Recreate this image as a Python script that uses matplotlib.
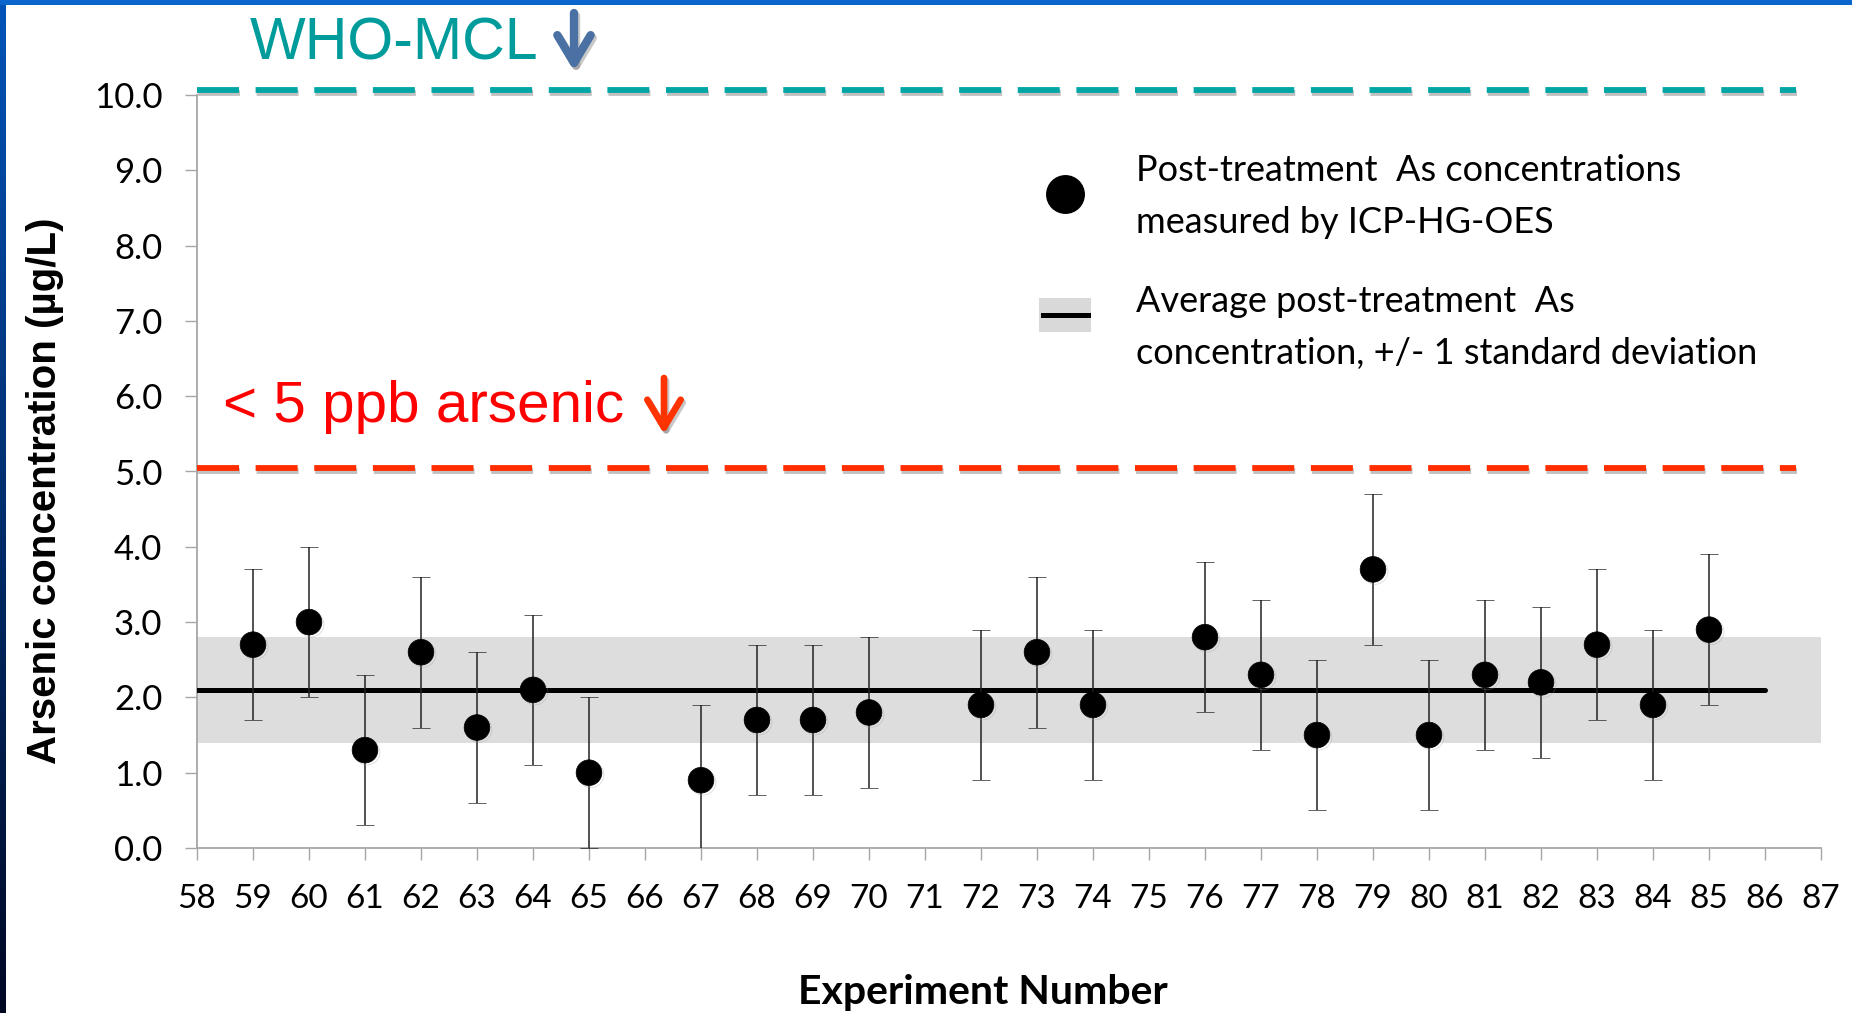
import numpy as np
import matplotlib
matplotlib.use('Agg')
import matplotlib.pyplot as plt
from matplotlib.lines import Line2D
from matplotlib.patches import Patch, Rectangle, FancyArrowPatch
from matplotlib.legend_handler import HandlerBase
import matplotlib.patheffects as pe

# ---------------- data ----------------
experiments = [59, 60, 61, 62, 63, 64, 65, 67, 68, 69, 70, 72, 73, 74,
               76, 77, 78, 79, 80, 81, 82, 83, 84, 85]
arsenic = [2.7, 3.0, 1.3, 2.6, 1.6, 2.1, 1.0, 0.9, 1.7, 1.7, 1.8, 1.9, 2.6, 1.9,
           2.8, 2.3, 1.5, 3.7, 1.5, 2.3, 2.2, 2.7, 1.9, 2.9]
arsenic_err = [1.0] * len(experiments)
mean_as = 2.1
sd_as = 0.7
band_x = [58, 87]
mean_x = [58, 86]
limit_x = [58, 86.55]
target_line = 5.05     # "< 5 ppb arsenic" dashed line
who_line = 10.07       # WHO-MCL dashed line
x_ticks = list(range(58, 88))
y_ticks = [0, 1, 2, 3, 4, 5, 6, 7, 8, 9, 10]

W, H = 1852, 1013
fig = plt.figure(figsize=(W / 100, H / 100), dpi=100)
fig.patch.set_facecolor('white')

ax = fig.add_axes([197 / W, 1 - 848 / H, (1821 - 197) / W, 753 / H])
ax.set_xlim(58, 87)
ax.set_ylim(0, 10)

# band and mean
ax.fill_between(band_x, mean_as - sd_as, mean_as + sd_as, color='#dddddd', lw=0, zorder=1)
ax.plot(mean_x, [mean_as] * 2, color='black', lw=3.6, solid_capstyle='round', zorder=3)

# data points
eb = ax.errorbar(experiments, arsenic, yerr=arsenic_err, fmt='o', ms=18.5, mfc='black',
                 mec='black', mew=0.5, ecolor='#222222', elinewidth=1.1, capsize=6.5,
                 capthick=1.1, zorder=5)
eb[0].set_path_effects([pe.SimpleLineShadow(offset=(1.5, -1.5), shadow_color='#999999', alpha=0.4),
                        pe.Normal()])

# threshold lines
shadow = [pe.SimpleLineShadow(offset=(1, -2.5), shadow_color='#777777', alpha=0.45), pe.Normal()]
ax.plot(limit_x, [target_line] * 2, color='#ff2d00', lw=4.2, dashes=(7.2, 2.85),
        dash_capstyle='butt', clip_on=False, zorder=6, path_effects=shadow)
ax.plot(limit_x, [who_line] * 2, color='#00a6a6', lw=4.2, dashes=(7.2, 2.85),
        dash_capstyle='butt', clip_on=False, zorder=6, path_effects=shadow)

# axes styling
for s in ['top', 'right']:
    ax.spines[s].set_visible(False)
for s in ['left', 'bottom']:
    ax.spines[s].set_color('#a6a6a6')
    ax.spines[s].set_linewidth(1.3)
ax.set_xticks(x_ticks)
ax.set_xticklabels([str(t) for t in x_ticks])
ax.set_yticks(y_ticks)
ax.set_yticklabels([f'{t:.1f}' for t in y_ticks])
ax.tick_params(axis='both', direction='out', length=8.5, width=1, color='#a6a6a6',
               labelsize=24, labelcolor='black')
ax.tick_params(axis='x', pad=17.5)
ax.tick_params(axis='y', pad=16.5, labelsize=25)
for lab in ax.get_xticklabels() + ax.get_yticklabels():
    lab.set_family('Lato')

ax.set_ylabel('Arsenic concentration (µg/L)', family='Liberation Sans', weight='bold',
              size=29, va='center')
ax.yaxis.set_label_coords(-0.0936, 0.474)
ax.set_xlabel('Experiment Number', family='Lato', weight='bold', size=29.5, va='center')
ax.xaxis.set_label_coords(0.484, -0.192)


# legend
class BandHandler(HandlerBase):
    def create_artists(self, legend, orig_handle, xdescent, ydescent, width, height,
                       fontsize, trans):
        dy = 9
        r = Rectangle((-xdescent, -ydescent + dy), width, height, fc='#d9d9d9',
                      ec='none', transform=trans)
        yl = -ydescent + dy + height / 2
        ln = Line2D([-xdescent + 3, -xdescent + width - 2], [yl, yl], color='black',
                    lw=3.6, transform=trans)
        return [r, ln]


FS = 26
em = FS * 100 / 72
h1 = Line2D([], [], marker='o', ls='none', ms=27, color='black')
h2 = Patch(fc='#d9d9d9', ec='none')
leg = ax.legend([h1, h2],
                ['Post-treatment  As concentrations\nmeasured by ICP-HG-OES',
                 'Average post-treatment  As\nconcentration, +/- 1 standard deviation'],
                handler_map={h2: BandHandler()},
                loc='upper left', bbox_to_anchor=(1039 / W, 1 - 154 / H),
                bbox_transform=fig.transFigure, frameon=False, borderpad=0,
                borderaxespad=0, handlelength=52 / em, handleheight=38 / em,
                handletextpad=45 / em, labelspacing=1.25, numpoints=1,
                prop=dict(family='Lato', size=FS))
for t in leg.get_texts():
    t.set_linespacing(1.72)
for col in leg._legend_handle_box.get_children():
    for row in col.get_children():
        row.align = 'center'

# annotations
fig.text(250 / W, 1 - 59 / H, 'WHO-MCL', family='Liberation Sans', size=42.5,
         color='#009b9b', ha='left', va='baseline')
fig.text(223 / W, 1 - 422 / H, '< 5 ppb arsenic', family='Liberation Sans', size=42,
         color='#ff0000', ha='left', va='baseline')

arrow_shadow = [pe.SimpleLineShadow(offset=(1.5, -2), shadow_color='#777777', alpha=0.4), pe.Normal()]
for (xa, ya, yb, col, lw) in [(574, 13, 71, '#4a70a4', 6.0), (664, 378, 434, '#ff3300', 4.8)]:
    arr = FancyArrowPatch((xa / W, 1 - ya / H), (xa / W, 1 - yb / H),
                          transform=fig.transFigure,
                          arrowstyle='->,head_length=1.0,head_width=0.6',
                          mutation_scale=20, lw=lw, color=col, capstyle='round',
                          joinstyle='round', shrinkA=0, shrinkB=0, path_effects=arrow_shadow)
    fig.add_artist(arr)

# slide border
lax = fig.add_axes([0, 0, 6 / W, 1])
grad = np.linspace(0, 1, 200)[:, None]
top_c = np.array([0.0, 0.33, 0.72])
bot_c = np.array([0.0, 0.03, 0.14])
img = (top_c[None, None, :] * (1 - grad[:, :, None]) + bot_c[None, None, :] * grad[:, :, None])
lax.imshow(img, aspect='auto')
lax.axis('off')
tax = fig.add_axes([0, 1 - 5 / H, 1, 5 / H])
tax.set_facecolor('#0a66cc')
tax.set_xticks([]); tax.set_yticks([])
for s in tax.spines.values():
    s.set_visible(False)

fig.savefig('out.png', dpi=100)
